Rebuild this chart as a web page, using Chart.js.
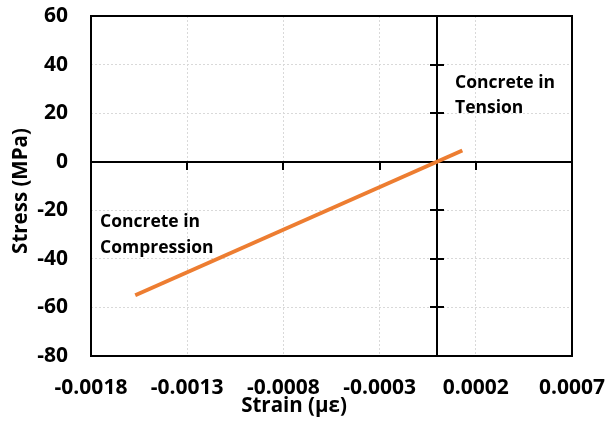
<!DOCTYPE html>
<html>
<head>
<meta charset="utf-8">
<script src="https://cdn.jsdelivr.net/npm/chart.js@4.4.0/dist/chart.umd.min.js"></script>
<style>
  html, body { margin: 0; padding: 0; background: #fff; }
  #wrap { width: 606px; height: 423px; position: relative; }
</style>
</head>
<body>
<div id="wrap"><canvas id="c" width="606" height="423"></canvas></div>
<script>
// Linear-elastic stress–strain relation of concrete
const strain = [-0.00157, 0.00013];
const stress = [-55, 4.6];

const xTicks = [-0.0018, -0.0013, -0.0008, -0.0003, 0.0002, 0.0007];
const yTicks = [-80, -60, -40, -20, 0, 20, 40, 60];

const xTitle = 'Strain (με)';
const yTitle = 'Stress (MPa)';
const noteCompression = ['Concrete in', 'Compression'];
const noteTension = ['Concrete in', 'Tension'];

const FONT = '"Open Sans", Lato, sans-serif';

// Frame, zero axes with cross ticks, titles and region notes
const decor = {
  id: 'decor',
  beforeDatasetsDraw(chart) {
    const { ctx, chartArea: a, scales: { x, y } } = chart;
    const x0 = Math.round(x.getPixelForValue(0));
    const y0 = Math.round(y.getPixelForValue(0));
    ctx.save();
    ctx.strokeStyle = '#000';
    ctx.lineWidth = 2;
    // horizontal zero axis with downward ticks
    ctx.beginPath();
    ctx.moveTo(a.left, y0); ctx.lineTo(a.right, y0);
    xTicks.forEach(v => {
      const px = Math.round(x.getPixelForValue(v));
      ctx.moveTo(px, y0); ctx.lineTo(px, y0 + 8);
    });
    ctx.stroke();
    // vertical zero axis with crossing ticks
    ctx.beginPath();
    ctx.moveTo(x0, a.top); ctx.lineTo(x0, a.bottom);
    yTicks.forEach(v => {
      const py = Math.round(y.getPixelForValue(v));
      ctx.moveTo(x0 - 7, py); ctx.lineTo(x0 + 7, py);
    });
    ctx.stroke();
    ctx.restore();
  },
  afterDraw(chart) {
    const { ctx, chartArea: a } = chart;
    ctx.save();
    ctx.strokeStyle = '#000';
    ctx.lineWidth = 2;
    ctx.strokeRect(a.left, a.top, a.right - a.left, a.bottom - a.top);

    ctx.fillStyle = '#000';
    ctx.font = 'bold 20.5px ' + FONT;
    ctx.textAlign = 'center';
    ctx.textBaseline = 'middle';
    ctx.fillText(xTitle, 294, 406);
    ctx.translate(21, 191);
    ctx.rotate(-Math.PI / 2);
    ctx.fillText(yTitle, 0, 0);
    ctx.restore();

    ctx.save();
    ctx.fillStyle = '#000';
    ctx.font = 'bold 17.5px ' + FONT;
    ctx.textAlign = 'left';
    ctx.textBaseline = 'alphabetic';
    noteCompression.forEach((t, i) => ctx.fillText(t, 100, 227 + i * 26));
    noteTension.forEach((t, i) => ctx.fillText(t, 455, 88 + i * 25));
    ctx.restore();
  }
};

// Drop the extra room Chart.js reserves for overhanging tick labels
function noOverhang(s) {
  s.paddingTop = 0; s.paddingBottom = 0; s.paddingLeft = 0; s.paddingRight = 0;
}

new Chart(document.getElementById('c'), {
  type: 'scatter',
  data: {
    datasets: [{
      data: strain.map((s, i) => ({ x: s, y: stress[i] })),
      showLine: true,
      borderColor: '#ED7D31',
      borderWidth: 4,
      pointRadius: 0,
      borderCapStyle: 'butt'
    }]
  },
  options: {
    responsive: false,
    animation: false,
    layout: { padding: { top: 16, right: 34, left: 0, bottom: 0 } },
    plugins: { legend: { display: false }, tooltip: { enabled: false } },
    scales: {
      x: {
        type: 'linear',
        min: -0.0018, max: 0.0007,
        afterBuildTicks(s) { s.ticks = xTicks.map(v => ({ value: v })); },
        afterFit(s) { s.height = 67; noOverhang(s); },
        grid: { color: '#d9d9d9', lineWidth: 1, drawTicks: false },
        border: { display: false, dash: [2, 2] },
        ticks: {
          padding: 19,
          color: '#000',
          font: { family: FONT, size: 21, weight: 'bold' },
          maxRotation: 0,
          callback: v => Number(v).toFixed(4)
        }
      },
      y: {
        type: 'linear',
        min: -80, max: 60,
        afterBuildTicks(s) { s.ticks = yTicks.map(v => ({ value: v })); },
        afterFit(s) { s.width = 91; noOverhang(s); },
        grid: { color: '#d9d9d9', lineWidth: 1, drawTicks: false },
        border: { display: false, dash: [2, 2] },
        ticks: {
          padding: 23,
          color: '#000',
          font: { family: FONT, size: 21, weight: 'bold' },
          callback: v => String(v)
        }
      }
    }
  },
  plugins: [decor]
});
</script>
</body>
</html>
